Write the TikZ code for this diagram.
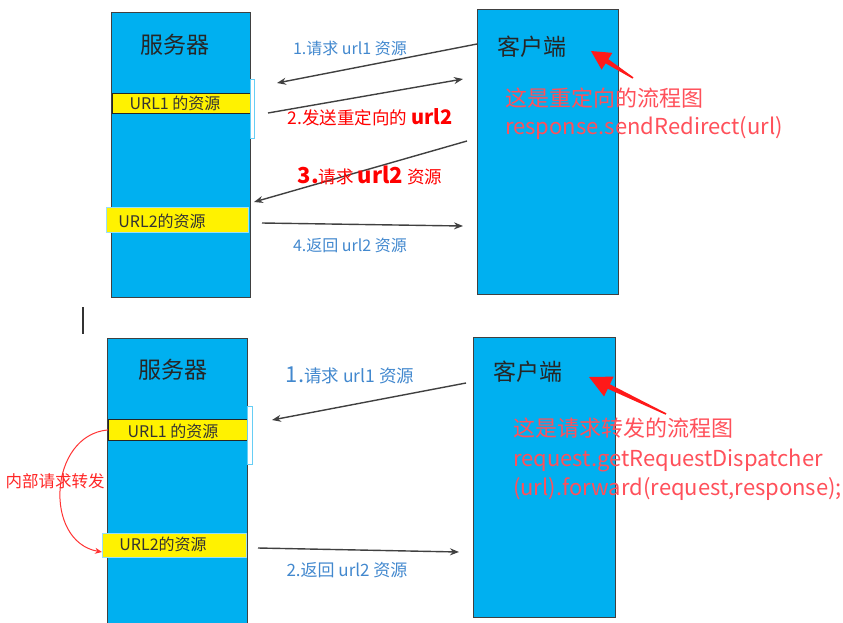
\documentclass[tikz,border=0pt]{standalone}
\usepackage{fontspec}
\setmainfont{Noto Sans CJK SC}
\usepackage{xcolor}
\usetikzlibrary{positioning, arrows.meta, calc}

\definecolor{boxblue}{RGB}{0,176,240}
\definecolor{lblblue}{RGB}{66,136,206}
\definecolor{notered}{RGB}{255,80,90}

% tapered red pointer: #1 tail, #2 tip, #3 head length, #4 head half width
\newcommand{\redpointer}[4]{%
    \fill[red!90] (#2) -- ($(#2)!#3!(#1)!#4!90:(#2)$) -- ($(#2)!#3!(#1)!2.5pt!90:(#2)$)
        -- ($(#1)!0.8pt!90:(#2)$) -- ($(#1)!0.8pt!-90:(#2)$)
        -- ($(#2)!#3!(#1)!2.5pt!-90:(#2)$) -- ($(#2)!#3!(#1)!#4!-90:(#2)$) -- cycle;}

\begin{document}
\begin{tikzpicture}[x=1pt, y=-1pt,
    box/.style={draw=black!75, line width=0.8pt, fill=boxblue, anchor=north west, inner sep=0pt},
    title/.style={text=black!85, font=\fontsize{23}{26}\selectfont},
    band/.style={fill=yellow, line width=0.8pt, anchor=north west, inner sep=0pt},
    bandtxt/.style={text=black!80, font=\fontsize{16}{18}\selectfont, inner sep=0pt},
    selframe/.style={draw=cyan!60, line width=0.5pt},
    msg/.style={draw=black!75, line width=1.4pt, -{Stealth[length=9pt, width=7pt]}},
    bluelbl/.style={text=lblblue, font=\fontsize{16}{18}\selectfont, inner sep=0pt},
    redlbl/.style={text=red, font=\fontsize{17.5}{20}\selectfont, inner sep=0pt},
    note/.style={text=notered, font=\fontsize{22}{28}\selectfont, align=left, anchor=north west, inner sep=0pt},
    fwd/.style={draw=red!80, line width=1pt, -{Stealth[length=7pt, width=6pt]}}
]
    \useasboundingbox (0,0) rectangle (843,622);

    % Server and client boxes
    \node[box, minimum width=139pt, minimum height=285pt] (srvA) at (111,12) {};
    \node[box, minimum width=141pt, minimum height=285pt] (cliA) at (477,9) {};
    \node[box, minimum width=140pt, minimum height=292pt] (srvB) at (107,338) {};
    \node[box, minimum width=142pt, minimum height=280pt] (cliB) at (473,337) {};

    % Titles
    \node[title] (srvAtitle) at (175,45) {服务器};
    \node[title] (cliAtitle) at (532,47) {客户端};
    \node[title] (srvBtitle) at (173,370) {服务器};
    \node[title] (cliBtitle) at (528,372) {客户端};

    % Resource bands
    \node[band, draw=black!85, minimum width=138pt, minimum height=20pt] (resA1) at (112,93) {};
    \node[band, draw=cyan!40, minimum width=142pt, minimum height=25pt] (resA2) at (106,207) {};
    \node[band, draw=black!85, minimum width=139pt, minimum height=21pt] (resB1) at (108,419) {};
    \node[band, draw=cyan!40, minimum width=144pt, minimum height=24pt] (resB2) at (102,533) {};
    \node[bandtxt] (resA1txt) at (175,103) {URL1 的资源};
    \node[bandtxt] (resA2txt) at (162,221) {URL2的资源};
    \node[bandtxt] (resB1txt) at (173,431) {URL1 的资源};
    \node[bandtxt] (resB2txt) at (163,544) {URL2的资源};

    % Selection frames
    \draw[selframe] (250,79) rectangle (254,138);
    \draw[selframe] (247,406) rectangle (252,464);

    % Separator mark
    \draw[line width=2.5pt, black!80] (83,307) -- (83,334);

    % Redirect: connections
    \coordinate (a1s) at (477,44);
    \coordinate (a1e) at (277,83);
    \coordinate (a2s) at (268,113);
    \coordinate (a2e) at (463,79);
    \coordinate (a3s) at (467,141);
    \coordinate (a3e) at (254,202);
    \coordinate (a4s) at (262,223);
    \coordinate (a4e) at (463,226);
    \draw[msg] (a1s) -- (a1e);
    \draw[msg] (a2s) -- (a2e);
    \draw[msg] (a3s) -- (a3e);
    \draw[msg] (a4s) -- (a4e);

    % Redirect: labels
    \node[bluelbl] (lblA1) at (350,48) {1.请求 url1 资源};
    \node[redlbl] (lblA2) at (370,117) {2.发送重定向的 {\bfseries\fontsize{20}{22}\selectfont url2}};
    \node[redlbl] (lblA3) at (370,175) {{\bfseries\fontsize{22}{24}\selectfont 3.}请求 {\bfseries\fontsize{22}{24}\selectfont url2} 资源};
    \node[bluelbl] (lblA4) at (350,245) {4.返回 url2 资源};

    % Redirect: note
    \node[note] (noteA) at (505,88) {这是重定向的流程图\\response.sendRedirect(url)};
    \coordinate (ptrAs) at (633,78);
    \coordinate (ptrAe) at (591,51);
    \redpointer{ptrAs}{ptrAe}{19pt}{10pt}

    % Forward: connections
    \coordinate (b1s) at (466,383);
    \coordinate (b1e) at (272,420);
    \coordinate (b2s) at (258,548);
    \coordinate (b2e) at (459,552);
    \draw[msg] (b1s) -- (b1e);
    \draw[msg] (b2s) -- (b2e);

    % Forward: labels
    \node[bluelbl, font=\fontsize{17.5}{20}\selectfont] (lblB1) at (350,375) {{\fontsize{22}{24}\selectfont 1.}请求 url1 资源};
    \node[bluelbl, font=\fontsize{17}{20}\selectfont] (lblB2) at (347,570) {2.返回 url2 资源};

    % Forward: internal dispatch
    \coordinate (fwdE) at (102,552);
    \draw[fwd] (resB1.west) to[out=185, in=170, looseness=1.25] (fwdE);
    \node[text=red!85, font=\fontsize{16.5}{18}\selectfont, inner sep=0pt] (fwdlbl) at (55,481) {内部请求转发};

    % Forward: note
    \node[note, font=\fontsize{22}{29.5}\selectfont] (noteB) at (513,418) {这是请求转发的流程图\\request.getRequestDispatcher\\(url).forward(request,response);};
    \coordinate (ptrBs) at (666,414);
    \coordinate (ptrBe) at (589,377);
    \redpointer{ptrBs}{ptrBe}{22pt}{11pt}

\end{tikzpicture}
\end{document}
